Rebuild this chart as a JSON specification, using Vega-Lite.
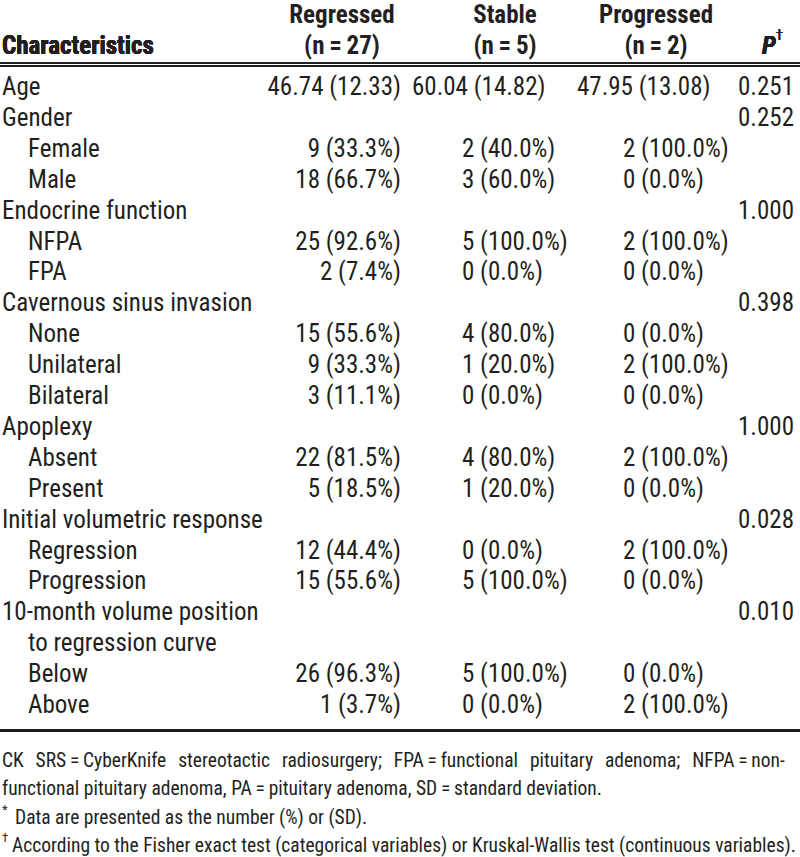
{
  "$schema": "https://vega.github.io/schema/vega-lite/v6.json",
  "width": 800,
  "height": 857,
  "autosize": "none",
  "padding": 0,
  "background": "white",
  "config": {"view": {"stroke": null}, "text": {"font": "Roboto Condensed, Roboto, sans-serif", "color": "#231f20"}},
  "datasets": {
    "rows": [
      {"row": 0, "indent": 0, "label": "Age", "Regressed": "46.74 (12.33)", "Stable": "60.04 (14.82)", "Progressed": "47.95 (13.08)", "P": "0.251"},
      {"row": 1, "indent": 0, "label": "Gender", "Regressed": "", "Stable": "", "Progressed": "", "P": "0.252"},
      {"row": 2, "indent": 1, "label": "Female", "Regressed": "9 (33.3%)", "Stable": "2 (40.0%)", "Progressed": "2 (100.0%)", "P": ""},
      {"row": 3, "indent": 1, "label": "Male", "Regressed": "18 (66.7%)", "Stable": "3 (60.0%)", "Progressed": "0 (0.0%)", "P": ""},
      {"row": 4, "indent": 0, "label": "Endocrine function", "Regressed": "", "Stable": "", "Progressed": "", "P": "1.000"},
      {"row": 5, "indent": 1, "label": "NFPA", "Regressed": "25 (92.6%)", "Stable": "5 (100.0%)", "Progressed": "2 (100.0%)", "P": ""},
      {"row": 6, "indent": 1, "label": "FPA", "Regressed": "2 (7.4%)", "Stable": "0 (0.0%)", "Progressed": "0 (0.0%)", "P": ""},
      {"row": 7, "indent": 0, "label": "Cavernous sinus invasion", "Regressed": "", "Stable": "", "Progressed": "", "P": "0.398"},
      {"row": 8, "indent": 1, "label": "None", "Regressed": "15 (55.6%)", "Stable": "4 (80.0%)", "Progressed": "0 (0.0%)", "P": ""},
      {"row": 9, "indent": 1, "label": "Unilateral", "Regressed": "9 (33.3%)", "Stable": "1 (20.0%)", "Progressed": "2 (100.0%)", "P": ""},
      {"row": 10, "indent": 1, "label": "Bilateral", "Regressed": "3 (11.1%)", "Stable": "0 (0.0%)", "Progressed": "0 (0.0%)", "P": ""},
      {"row": 11, "indent": 0, "label": "Apoplexy", "Regressed": "", "Stable": "", "Progressed": "", "P": "1.000"},
      {"row": 12, "indent": 1, "label": "Absent", "Regressed": "22 (81.5%)", "Stable": "4 (80.0%)", "Progressed": "2 (100.0%)", "P": ""},
      {"row": 13, "indent": 1, "label": "Present", "Regressed": "5 (18.5%)", "Stable": "1 (20.0%)", "Progressed": "0 (0.0%)", "P": ""},
      {"row": 14, "indent": 0, "label": "Initial volumetric response", "Regressed": "", "Stable": "", "Progressed": "", "P": "0.028"},
      {"row": 15, "indent": 1, "label": "Regression", "Regressed": "12 (44.4%)", "Stable": "0 (0.0%)", "Progressed": "2 (100.0%)", "P": ""},
      {"row": 16, "indent": 1, "label": "Progression", "Regressed": "15 (55.6%)", "Stable": "5 (100.0%)", "Progressed": "0 (0.0%)", "P": ""},
      {"row": 17, "indent": 0, "label": "10-month volume position", "Regressed": "", "Stable": "", "Progressed": "", "P": "0.010"},
      {"row": 18, "indent": 1, "label": "to regression curve", "Regressed": "", "Stable": "", "Progressed": "", "P": ""},
      {"row": 19, "indent": 1, "label": "Below", "Regressed": "26 (96.3%)", "Stable": "5 (100.0%)", "Progressed": "0 (0.0%)", "P": ""},
      {"row": 20, "indent": 1, "label": "Above", "Regressed": "1 (3.7%)", "Stable": "0 (0.0%)", "Progressed": "2 (100.0%)", "P": ""}
    ],
    "header": [
      {"col": 1, "line": 0, "text": "Regressed"},
      {"col": 1, "line": 1, "text": "(n\u2009=\u200927)"},
      {"col": 2, "line": 0, "text": "Stable"},
      {"col": 2, "line": 1, "text": "(n\u2009=\u20095)"},
      {"col": 3, "line": 0, "text": "Progressed"},
      {"col": 3, "line": 1, "text": "(n\u2009=\u20092)"}
    ],
    "notes": [
      {"line": 0, "indent": 0, "mark": "", "text": "CK \u2009\u2009SRS\u2009=\u2009CyberKnife \u2009\u2009stereotactic \u2009\u2009radiosurgery; \u2009\u2009FPA\u2009=\u2009functional \u2009\u2009pituitary \u2009\u2009adenoma; \u2009\u2009NFPA\u2009=\u2009non-"},
      {"line": 1, "indent": 0, "mark": "", "text": "functional pituitary adenoma, PA\u2009=\u2009pituitary adenoma, SD\u2009=\u2009standard deviation."},
      {"line": 2, "indent": 1, "mark": "*", "text": "Data are presented as the number (%) or (SD)."},
      {"line": 3, "indent": 2, "mark": "\u2020", "text": "According to the Fisher exact test (categorical variables) or Kruskal-Wallis test (continuous variables)."}
    ]
  },
  "resolve": {"scale": {"x": "independent", "y": "independent"}},
  "layer": [
    {
      "data": {"name": "rows"},
      "layer": [
        {
          "mark": {"type": "text", "align": "left", "baseline": "middle", "fontSize": 25},
          "encoding": {
            "x": {"field": "indent", "type": "quantitative", "scale": {"domain": [0, 1, 2, 3, 4, 5], "range": [2, 28, 401, 462, 623, 794], "nice": false, "zero": false}, "axis": null},
            "y": {"field": "row", "type": "quantitative", "scale": {"domain": [0, 20], "range": [87, 705]}, "axis": null},
            "text": {"field": "label"}
          }
        },
        {
          "mark": {"type": "text", "align": "right", "baseline": "middle", "fontSize": 25},
          "encoding": {
            "x": {"datum": 2, "type": "quantitative"},
            "y": {"field": "row", "type": "quantitative"},
            "text": {"field": "Regressed"}
          }
        },
        {
          "transform": [{"filter": "datum.row > 0"}],
          "mark": {"type": "text", "align": "left", "baseline": "middle", "fontSize": 25},
          "encoding": {
            "x": {"datum": 3, "type": "quantitative"},
            "y": {"field": "row", "type": "quantitative"},
            "text": {"field": "Stable"}
          }
        },
        {
          "transform": [{"filter": "datum.row > 0"}],
          "mark": {"type": "text", "align": "left", "baseline": "middle", "fontSize": 25},
          "encoding": {
            "x": {"datum": 4, "type": "quantitative"},
            "y": {"field": "row", "type": "quantitative"},
            "text": {"field": "Progressed"}
          }
        },
        {
          "transform": [{"filter": "datum.row == 0"}],
          "mark": {"type": "text", "align": "left", "baseline": "middle", "fontSize": 25, "dx": -50},
          "encoding": {
            "x": {"datum": 3, "type": "quantitative"},
            "y": {"field": "row", "type": "quantitative"},
            "text": {"field": "Stable"}
          }
        },
        {
          "transform": [{"filter": "datum.row == 0"}],
          "mark": {"type": "text", "align": "left", "baseline": "middle", "fontSize": 25, "dx": -46},
          "encoding": {
            "x": {"datum": 4, "type": "quantitative"},
            "y": {"field": "row", "type": "quantitative"},
            "text": {"field": "Progressed"}
          }
        },
        {
          "mark": {"type": "text", "align": "right", "baseline": "middle", "fontSize": 25},
          "encoding": {
            "x": {"datum": 5, "type": "quantitative"},
            "y": {"field": "row", "type": "quantitative"},
            "text": {"field": "P"}
          }
        },
        {
          "mark": {"type": "rule", "color": "#231f20", "strokeWidth": 1},
          "encoding": {"y": {"datum": -0.765, "type": "quantitative"}}
        },
        {
          "mark": {"type": "rule", "color": "#231f20", "strokeWidth": 1.6},
          "encoding": {"y": {"datum": -0.68, "type": "quantitative"}}
        },
        {
          "mark": {"type": "rule", "color": "#231f20", "strokeWidth": 1.6},
          "encoding": {"y": {"datum": 20.825, "type": "quantitative"}}
        }
      ]
    },
    {
      "data": {"name": "header"},
      "layer": [
        {
          "mark": {"type": "text", "align": "center", "baseline": "middle", "fontSize": 25, "fontWeight": "bold"},
          "encoding": {
            "x": {"field": "col", "type": "quantitative", "scale": {"domain": [0, 1, 2, 3, 4], "range": [2, 342, 505, 656, 762], "nice": false, "zero": false}, "axis": null},
            "y": {"field": "line", "type": "quantitative", "scale": {"domain": [0, 1], "range": [15, 46]}, "axis": null},
            "text": {"field": "text"}
          }
        },
        {
          "mark": {"type": "text", "align": "left", "baseline": "middle", "fontSize": 25, "fontWeight": "bold"},
          "encoding": {
            "x": {"datum": 0, "type": "quantitative"},
            "y": {"datum": 1, "type": "quantitative"},
            "text": {"value": "Characteristics"}
          }
        },
        {
          "mark": {"type": "text", "align": "left", "baseline": "middle", "fontSize": 25, "fontWeight": "bold", "fontStyle": "italic"},
          "encoding": {
            "x": {"datum": 4, "type": "quantitative"},
            "y": {"datum": 1, "type": "quantitative"},
            "text": {"value": "P"}
          }
        },
        {
          "mark": {"type": "text", "align": "left", "baseline": "middle", "fontSize": 14, "dx": 14, "dy": -10},
          "encoding": {
            "x": {"datum": 4, "type": "quantitative"},
            "y": {"datum": 1, "type": "quantitative"},
            "text": {"value": "\u2020"}
          }
        }
      ]
    },
    {
      "data": {"name": "notes"},
      "layer": [
        {
          "mark": {"type": "text", "align": "left", "baseline": "middle", "fontSize": 19.5},
          "encoding": {
            "x": {"field": "indent", "type": "quantitative", "scale": {"domain": [0, 1, 2], "range": [2, 15, 12], "nice": false, "zero": false}, "axis": null},
            "y": {"field": "line", "type": "quantitative", "scale": {"domain": [0, 3], "range": [761, 846]}, "axis": null},
            "text": {"field": "text"}
          }
        },
        {
          "transform": [{"filter": "datum.mark != ''"}],
          "mark": {"type": "text", "align": "left", "baseline": "middle", "fontSize": 13, "dy": -8},
          "encoding": {
            "x": {"datum": 0, "type": "quantitative"},
            "y": {"field": "line", "type": "quantitative"},
            "text": {"field": "mark"}
          }
        }
      ]
    }
  ]
}
